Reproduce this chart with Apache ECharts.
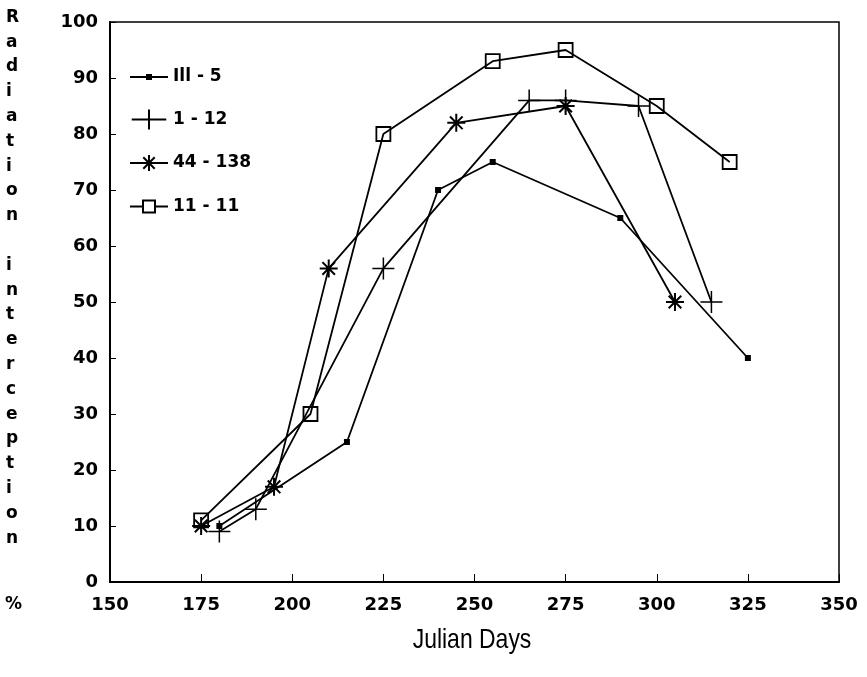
<!DOCTYPE html>
<html>
<head>
<meta charset="utf-8">
<script src="https://cdn.jsdelivr.net/npm/echarts@6/dist/echarts.min.js"></script>
<style>
html,body{margin:0;padding:0;background:#fff;}
#chart{width:867px;height:677px;}
</style>
</head>
<body>
<div id="chart"></div>
<script>
// Data
const seriesNames = ['Ill - 5', '1 - 12', '44 - 138', '11 - 11'];
const daysA = [180, 215, 240, 255, 290, 325];
const valsA = [10, 25, 70, 75, 65, 40];
const daysB = [180, 190, 225, 265, 275, 295, 315];
const valsB = [9, 13, 56, 86, 86, 85, 50];
const daysC = [175, 195, 210, 245, 275, 305];
const valsC = [10, 17, 56, 82, 85, 50];
const daysD = [175, 205, 225, 255, 275, 300, 320];
const valsD = [11, 30, 80, 93, 95, 85, 75];
const xTicks = [150, 175, 200, 225, 250, 275, 300, 325, 350];
const yTicks = [0, 10, 20, 30, 40, 50, 60, 70, 80, 90, 100];

function pairs(xs, ys) { return xs.map((x, i) => [x, ys[i]]); }

const FONT = 'DejaVu Sans';
const plusPath = 'path://M10,0 L10,20 M0,10 L20,10';
const starPath = 'path://M10,0 L10,20 M0,10 L20,10 M3,3 L17,17 M17,3 L3,17';
const boxPath = 'path://M0,0 L10,0 L10,10 L0,10 Z';
// legend icons: 38 x 20 box, line across plus the marker
const legRect = 'path://M0,0 M38,20 M0,9.1 L38,9.1 L38,10.9 L0,10.9 Z M16,7 L22,7 L22,13 L16,13 Z';
const legPlus = 'path://M0,0 M38,20 M0,10 L38,10 M19,-1 L19,21';
const legStar = 'path://M0,0 M38,20 M0,10 L38,10 M19,2 L19,18 M13.3,4.3 L24.7,15.7 M24.7,4.3 L13.3,15.7';
const legBox = 'path://M0,0 M38,20 M0,10 L13,10 M25,10 L38,10 M13,4 L25,4 L25,16 L13,16 Z';

const chart = echarts.init(document.getElementById('chart'));
const lineStyle = { color: '#000', width: 1.8 };
chart.setOption({
  animation: false,
  backgroundColor: '#fff',
  grid: { left: 110, right: 28, top: 22, bottom: 95, show: true, borderColor: '#000', borderWidth: 1.5, backgroundColor: 'transparent' },
  legend: {
    orient: 'vertical', left: 124, top: 62,
    itemWidth: 38, itemHeight: 20, itemGap: 21.5,
    data: [
      { name: seriesNames[0], icon: legRect },
      { name: seriesNames[1], icon: legPlus },
      { name: seriesNames[2], icon: legStar },
      { name: seriesNames[3], icon: legBox }
    ],
    textStyle: { fontFamily: FONT, fontWeight: 'bold', fontSize: 17, color: '#000' }
  },
  xAxis: {
    type: 'value', min: 150, max: 350, interval: 25,
    axisLine: { show: true, lineStyle: { color: '#000', width: 2 } },
    axisTick: { show: true, inside: true, length: 8, lineStyle: { color: '#000', width: 1 } },
    splitLine: { show: false },
    axisLabel: { margin: 14, fontFamily: FONT, fontWeight: 'bold', fontSize: 18, color: '#000',
      formatter: v => xTicks.includes(v) ? String(v) : '' }
  },
  yAxis: {
    type: 'value', min: 0, max: 100, interval: 10,
    axisLine: { show: true, lineStyle: { color: '#000', width: 2 } },
    axisTick: { show: true, inside: true, length: 6, lineStyle: { color: '#000', width: 1 } },
    splitLine: { show: false },
    axisLabel: { margin: 12, fontFamily: FONT, fontWeight: 'bold', fontSize: 18, color: '#000',
      formatter: v => yTicks.includes(v) ? String(v) : '' }
  },
  graphic: [
    { type: 'text', left: 6, top: 5, style: {
      text: 'R\na\nd\ni\na\nt\ni\no\nn\n\ni\nn\nt\ne\nr\nc\ne\np\nt\ni\no\nn',
      font: 'bold 17px "DejaVu Sans"', fill: '#000', lineHeight: 24.8, align: 'left' } },
    { type: 'text', left: 5, top: 596, style: { text: '%', font: 'bold 17px "DejaVu Sans"', fill: '#000' } },
    { type: 'text', x: 472, y: 640, scaleX: 0.82, originX: 0, style: {
      text: 'Julian Days', font: '28px "Liberation Sans"', fill: '#000', align: 'center', verticalAlign: 'middle' } }
  ],
  series: [
    { name: seriesNames[0], type: 'line', data: pairs(daysA, valsA),
      symbol: 'rect', symbolSize: 6, lineStyle: lineStyle,
      itemStyle: { color: '#000', borderColor: '#000', borderWidth: 0 } },
    { name: seriesNames[1], type: 'line', data: pairs(daysB, valsB),
      symbol: plusPath, symbolSize: 22, lineStyle: lineStyle,
      itemStyle: { color: '#000', borderColor: '#000', borderWidth: 1.5 } },
    { name: seriesNames[2], type: 'line', data: pairs(daysC, valsC),
      symbol: starPath, symbolSize: 18, lineStyle: lineStyle,
      itemStyle: { color: '#000', borderColor: '#000', borderWidth: 2 } },
    { name: seriesNames[3], type: 'line', data: pairs(daysD, valsD),
      symbol: boxPath, symbolSize: 14, lineStyle: lineStyle,
      itemStyle: { color: 'rgba(0,0,0,0)', borderColor: '#000', borderWidth: 1.8 } }
  ]
});
</script>
</body>
</html>
